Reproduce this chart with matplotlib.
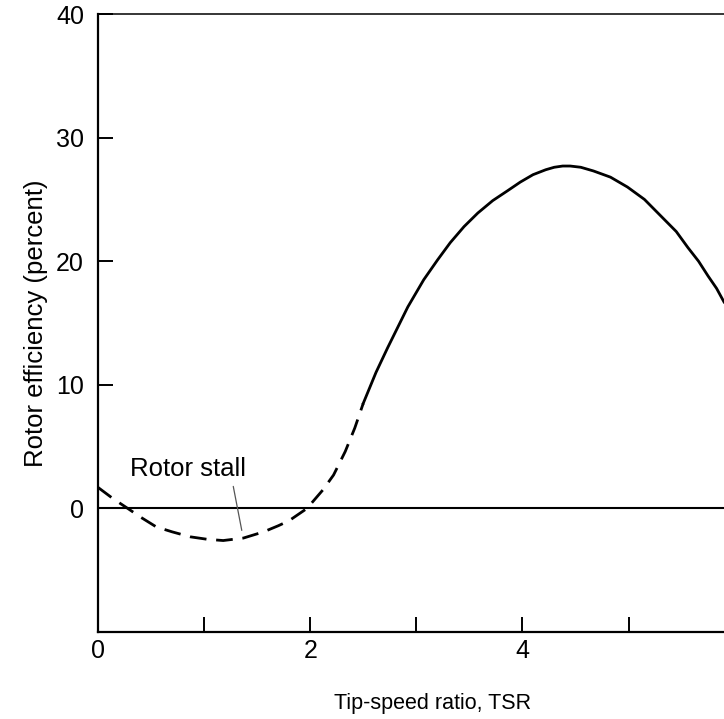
import matplotlib
matplotlib.use('Agg')
from matplotlib import pyplot as plt

plt.rcParams['font.family'] = ['Liberation Sans', 'DejaVu Sans']

# values
stall_tsr = [0.0, 0.14, 0.28, 0.4, 0.55, 0.7, 0.87, 1.03, 1.18, 1.37, 1.56, 1.7,
             1.8, 1.97, 2.12, 2.22, 2.33, 2.42, 2.5]
stall_eff = [1.7, 0.8, 0.0, -0.7, -1.5, -1.9, -2.3, -2.5, -2.6, -2.4, -1.9, -1.4,
             -1.0, 0.0, 1.5, 2.7, 4.6, 6.5, 8.5]

run_tsr = [2.5, 2.62, 2.73, 2.92, 3.07, 3.2, 3.32, 3.45, 3.58, 3.72, 3.86, 3.98,
           4.10, 4.22, 4.30, 4.38, 4.45, 4.55, 4.67, 4.83, 4.99, 5.15, 5.30, 5.45,
           5.56, 5.66, 5.75, 5.83, 5.90]
run_eff = [8.5, 11.0, 13.0, 16.3, 18.5, 20.1, 21.5, 22.8, 23.9, 24.9, 25.7, 26.4,
           27.0, 27.4, 27.6, 27.7, 27.7, 27.6, 27.3, 26.8, 26.0, 25.0, 23.7, 22.4,
           21.1, 20.0, 18.8, 17.8, 16.7]

x_ticks = [0, 1, 2, 3, 4, 5]
x_labels = ['0', '', '2', '', '4', '']
y_ticks = [0, 10, 20, 30, 40]

fig = plt.figure(figsize=(7.24, 7.19), dpi=100)
ax = fig.add_axes([98/724, 87/719, 626/724, 618/719])

ax.plot(stall_tsr, stall_eff, color='black', lw=2.0, dashes=(6, 3.5))
ax.plot(run_tsr, run_eff, color='black', lw=2.0)
ax.axhline(0, color='black', lw=1.5)

ax.annotate('', xy=(1.36, -2.0), xytext=(1.27, 2.0),
            arrowprops=dict(arrowstyle='-', color='#555555', lw=0.9))
ax.text(0.30, 3.2, 'Rotor stall', fontsize=18.5, ha='left', va='center')

ax.set_xlim(0, 5.9)
ax.set_ylim(-10, 40)
ax.set_xticks(x_ticks)
ax.set_xticklabels(x_labels)
ax.set_yticks(y_ticks)
ax.tick_params(axis='both', direction='in', length=11, width=1.4, labelsize=18)
ax.tick_params(axis='x', pad=5)
ax.tick_params(axis='y', pad=10)

ax.spines['right'].set_visible(False)
ax.spines['left'].set_linewidth(1.6)
ax.spines['bottom'].set_linewidth(1.6)
ax.spines['top'].set_linewidth(1.1)

ax.set_ylabel('Rotor efficiency (percent)', fontsize=18.5)
ax.yaxis.set_label_coords(-0.08, 0.5)
fig.text(433/724, 1 - 703/719, 'Tip-speed ratio, TSR', fontsize=15.5,
         ha='center', va='center')

fig.savefig('out.png', dpi=100)
